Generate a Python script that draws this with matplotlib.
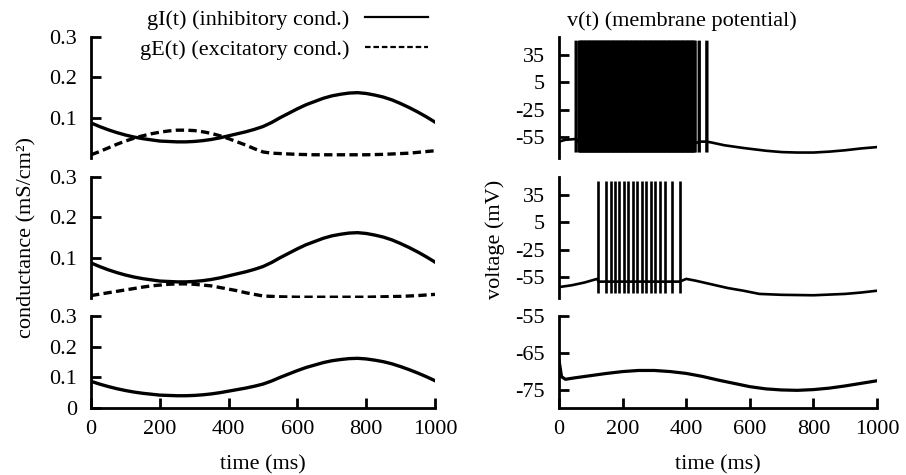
import matplotlib
matplotlib.use("Agg")
import matplotlib.pyplot as plt

plt.rcParams['font.family'] = ['Liberation Serif', 'DejaVu Serif']
plt.rcParams['font.size'] = 16
plt.rcParams['axes.unicode_minus'] = False

# conductances (mS/cm^2), every 25 ms
t_g = [0, 25, 50, 75, 100, 125, 150, 175, 200, 225, 250, 275, 300, 325, 350, 375,
       400, 425, 450, 475, 500, 525, 550, 575, 600, 625, 650, 675, 700, 725,
       750, 775, 800, 825, 850, 875, 900, 925, 950, 975, 1000]
g_inh = [0.087, 0.078, 0.070, 0.063, 0.057, 0.052, 0.048, 0.045, 0.042, 0.041, 0.040,
         0.040, 0.041, 0.043, 0.046, 0.050, 0.055, 0.060, 0.065, 0.071, 0.078,
         0.088, 0.100, 0.111, 0.122, 0.132, 0.140, 0.148, 0.154, 0.158, 0.161,
         0.162, 0.160, 0.156, 0.151, 0.144, 0.135, 0.125, 0.114, 0.102, 0.089]
g_exc_top = [0.008, 0.016, 0.025, 0.034, 0.042, 0.049, 0.055, 0.060, 0.064, 0.067, 0.069,
             0.069, 0.068, 0.065, 0.061, 0.055, 0.048, 0.040, 0.032, 0.023, 0.015,
             0.012, 0.011, 0.010, 0.009, 0.0085, 0.008, 0.008, 0.008, 0.008, 0.008,
             0.008, 0.008, 0.0085, 0.009, 0.010, 0.011, 0.012, 0.014, 0.016, 0.018]
g_exc_mid = [0.006, 0.0095, 0.013, 0.0165, 0.020, 0.0235, 0.027, 0.030, 0.032, 0.034, 0.035,
             0.035, 0.034, 0.032, 0.030, 0.026, 0.022, 0.018, 0.013, 0.009, 0.005,
             0.004, 0.003, 0.0025, 0.002, 0.002, 0.002, 0.002, 0.002, 0.002, 0.002,
             0.002, 0.002, 0.0025, 0.003, 0.0035, 0.004, 0.005, 0.006, 0.0075, 0.009]

# membrane potential (mV): sub-threshold trace + spike times
t_v_top = [0, 20, 40, 54, 64, 150, 250, 350, 428, 441, 465, 480, 520, 580,
           650, 700, 750, 800, 850, 900, 950, 1000]
v_top = [-60, -58, -57.5, -57, -62, -62, -62, -62, -62, -60, -60, -61, -64, -67,
         -70, -71.5, -72, -72, -71, -69.5, -67.5, -66]
spikes_top = [54, 65, 68, 72, 76, 80, 84, 88, 92, 96, 100, 104, 108, 112, 116,
              120, 124, 128, 132, 136, 140, 144, 148, 152, 156, 160, 164, 168,
              172, 176, 180, 184, 188, 192, 196, 200, 204, 208, 212, 216, 220,
              224, 228, 232, 236, 240, 244, 248, 252, 256, 260, 264, 268, 272,
              276, 280, 284, 288, 292, 296, 300, 304, 308, 312, 316, 320, 324,
              328, 332, 336, 340, 344, 348, 352, 356, 360, 364, 368, 372, 376,
              380, 384, 388, 392, 396, 400, 404, 408, 412, 416, 420, 424, 428,
              441, 465]

t_v_mid = [0, 40, 80, 120, 124, 200, 300, 380, 400, 430, 480, 530, 580,
           630, 700, 800, 900, 950, 1000]
v_mid = [-66, -64, -61, -57, -60, -60, -60, -60, -57, -59, -63, -67, -70,
         -73.5, -74.5, -75, -73.5, -72, -70]
spikes_mid = [124, 148, 164, 176, 190, 205, 218, 232, 246, 260, 274, 288,
              302, 318, 333, 354, 380]

t_v_bot = [0, 8, 20, 50, 100, 150, 200, 250, 300, 350, 400, 450, 500,
           550, 600, 650, 700, 750, 800, 850, 900, 950, 1000]
v_bot = [-67, -71.5, -72.2, -71.8, -71.2, -70.6, -70.1, -69.8, -69.8, -70.1, -70.6, -71.4, -72.4,
         -73.3, -74.2, -74.8, -75.1, -75.2, -75.0, -74.6, -74.0, -73.3, -72.6]

spike_peak = 51
spike_trough = -72

time_ticks = [0, 200, 400, 600, 800, 1000]
g_ticks = [0.1, 0.2, 0.3]
v_ticks = [-55, -25, 5, 35]
v_ticks_bot = [-75, -65, -55]

W, H = 906, 475
fig = plt.figure(figsize=(W / 100, H / 100), dpi=100)


def box(x0, x1, y0, y1):
    return [x0 / W, 1 - y1 / H, (x1 - x0) / W, (y1 - y0) / H]


rows = [(37, 158), (177, 298), (316, 408)]
left = [fig.add_axes(box(91, 435, *r)) for r in rows]
right = [fig.add_axes(box(559, 877, *r)) for r in rows]

for ax in left + right:
    ax.set_xlim(0, 1000)
    for s in ['top', 'right']:
        ax.spines[s].set_visible(False)
    ax.spines['left'].set_linewidth(2)
    ax.spines['bottom'].set_linewidth(2)
    ax.tick_params(axis='y', direction='in', length=7, width=2, pad=10)
    ax.tick_params(axis='x', direction='in', length=7, width=2, pad=9)
    if ax in (left[2], right[2]):
        ax.set_xticks(time_ticks)
        ax.set_xlabel('time (ms)', labelpad=11)
    else:
        ax.spines['bottom'].set_visible(False)
        ax.set_xticks([])

lw = 2.4
dash = (2.5, 1.3)
# left column: conductances
for ax, ge in zip(left[:2], [g_exc_top, g_exc_mid]):
    ax.plot(t_g, g_inh, color='black', lw=lw, label='gI(t) (inhibitory cond.)')
    ax.plot(t_g, ge, color='black', lw=lw, dashes=dash, label='gE(t) (excitatory cond.)')
left[2].plot(t_g, g_inh, color='black', lw=lw)
for ax in left:
    ax.set_ylim(0, 0.3)
    ax.set_yticks(g_ticks)
left[2].set_yticks([0] + g_ticks)
left[2].set_yticklabels(['0', '0.1', '0.2', '0.3'])

leg = left[0].legend(loc='upper right', bbox_to_anchor=(428 / W, 1 - 9 / H),
                     bbox_transform=fig.transFigure, frameon=False, markerfirst=False,
                     handlelength=2.85, handletextpad=0.7, labelspacing=0.45,
                     borderpad=0, borderaxespad=0)
for line in leg.get_lines():
    line.set_linewidth(1.6)

# right column: membrane potential
vlw = 1.9
right[0].plot(t_v_top, v_top, color='black', lw=vlw)
right[0].vlines(spikes_top, spike_trough, spike_peak, color='black', lw=2.4, snap=False)
right[1].plot(t_v_mid, v_mid, color='black', lw=vlw)
right[1].vlines(spikes_mid, spike_trough, spike_peak, color='black', lw=vlw)
right[2].plot(t_v_bot, v_bot, color='black', lw=vlw + 0.4)
for ax in right[:2]:
    ax.set_ylim(-78, 55)
    ax.set_yticks(v_ticks)
right[2].set_ylim(-80, -55)
right[2].set_yticks(v_ticks_bot)

right[0].text(0.387, 1 + 16 / 121, 'v(t) (membrane potential)', transform=right[0].transAxes,
              ha='center', va='center')

fig.text(27 / W, 1 - 237 / H, 'conductance (mS/cm²)', rotation=90, ha='center', va='center')
fig.text(495 / W, 1 - 239 / H, 'voltage (mV)', rotation=90, ha='center', va='center')

fig.savefig('out.png', dpi=100)
